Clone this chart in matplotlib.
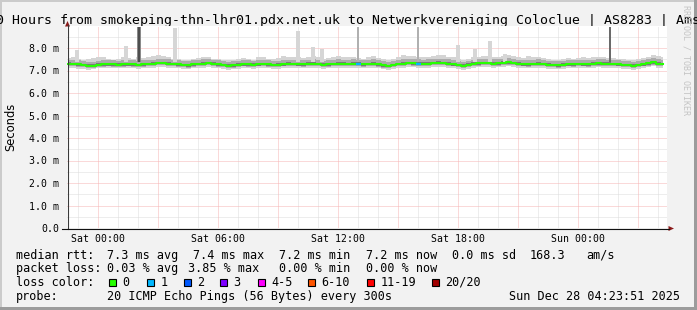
import matplotlib
matplotlib.use('Agg')
import matplotlib.pyplot as plt
import numpy as np
from matplotlib.patches import Rectangle, Polygon

plt.rcParams['lines.scale_dashes'] = False

# ---------------- data ----------------
title = "30 Hours from smokeping-thn-lhr01.pdx.net.uk to Netwerkvereniging Coloclue | AS8283 | Amsterdam"
start_hour = -1.5      # hours relative to Sat 00:00
step_hours = 0.25

median = [
    7.30, 7.29, 7.27, 7.24, 7.21, 7.22, 7.26, 7.27, 7.28, 7.27,
    7.26, 7.27, 7.28, 7.27, 7.25, 7.27, 7.29, 7.30, 7.33, 7.34,
    7.31, 7.29, 7.27, 7.24, 7.23, 7.27, 7.29, 7.31, 7.33, 7.30,
    7.27, 7.24, 7.22, 7.23, 7.26, 7.28, 7.27, 7.26, 7.28, 7.29,
    7.27, 7.25, 7.26, 7.28, 7.30, 7.29, 7.28, 7.27, 7.30, 7.31,
    7.29, 7.26, 7.27, 7.29, 7.31, 7.30, 7.29, 7.31, 7.30, 7.27,
    7.29, 7.31, 7.27, 7.23, 7.20, 7.25, 7.29, 7.31, 7.33, 7.32,
    7.31, 7.30, 7.31, 7.33, 7.35, 7.34, 7.31, 7.28, 7.25, 7.22,
    7.26, 7.30, 7.32, 7.34, 7.33, 7.31, 7.32, 7.35, 7.36, 7.33,
    7.30, 7.28, 7.27, 7.29, 7.31, 7.29, 7.26, 7.24, 7.23, 7.26,
    7.28, 7.27, 7.29, 7.28, 7.27, 7.30, 7.32, 7.31, 7.30, 7.29,
    7.28, 7.25, 7.24, 7.22, 7.25, 7.28, 7.32, 7.36, 7.31, 7.29]

smoke_hi = [
    7.55, 7.60, 7.52, 7.48, 7.50, 7.56, 7.62, 7.58, 7.50, 7.47,
    7.52, 7.58, 7.55, 7.50, 7.62, 7.56, 7.60, 7.65, 7.70, 7.66,
    7.58, 7.52, 7.50, 7.48, 7.46, 7.52, 7.55, 7.60, 7.58, 7.52,
    7.50, 7.46, 7.45, 7.48, 7.52, 7.56, 7.50, 7.48, 7.58, 7.62,
    7.52, 7.50, 7.55, 7.65, 7.60, 7.62, 7.58, 7.55, 7.62, 7.66,
    7.58, 7.52, 7.55, 7.60, 7.65, 7.62, 7.58, 7.62, 7.56, 7.52,
    7.58, 7.64, 7.55, 7.50, 7.47, 7.52, 7.62, 7.70, 7.66, 7.64,
    7.60, 7.58, 7.62, 7.66, 7.70, 7.68, 7.62, 7.58, 7.52, 7.48,
    7.52, 7.58, 7.62, 7.66, 7.64, 7.60, 7.62, 7.66, 7.70, 7.64,
    7.58, 7.55, 7.66, 7.62, 7.58, 7.54, 7.50, 7.48, 7.46, 7.50,
    7.54, 7.52, 7.56, 7.60, 7.55, 7.58, 7.62, 7.60, 7.56, 7.54,
    7.52, 7.50, 7.48, 7.46, 7.50, 7.56, 7.62, 7.70, 7.66, 7.58]

smoke_lo = [
    7.12, 7.10, 7.08, 7.06, 7.04, 7.06, 7.10, 7.11, 7.12, 7.10,
    7.09, 7.11, 7.12, 7.10, 7.08, 7.10, 7.12, 7.13, 7.15, 7.16,
    7.13, 7.11, 7.09, 7.06, 7.05, 7.09, 7.11, 7.13, 7.15, 7.12,
    7.09, 7.06, 7.04, 7.05, 7.08, 7.10, 7.09, 7.08, 7.10, 7.11,
    7.09, 7.07, 7.08, 7.10, 7.12, 7.11, 7.10, 7.09, 7.12, 7.13,
    7.11, 7.08, 7.09, 7.11, 7.13, 7.12, 7.11, 7.13, 7.12, 7.09,
    7.11, 7.13, 7.09, 7.05, 7.02, 7.07, 7.11, 7.13, 7.15, 7.14,
    7.13, 7.12, 7.13, 7.15, 7.17, 7.16, 7.13, 7.10, 7.07, 7.04,
    7.08, 7.12, 7.14, 7.16, 7.15, 7.13, 7.14, 7.17, 7.18, 7.15,
    7.12, 7.10, 7.09, 7.11, 7.13, 7.11, 7.08, 7.06, 7.05, 7.08,
    7.10, 7.09, 7.11, 7.10, 7.09, 7.12, 7.14, 7.13, 7.12, 7.11,
    7.10, 7.07, 7.06, 7.04, 7.07, 7.10, 7.14, 7.18, 7.13, 7.11]

# outlier spikes (hour, top value in ms, shade)
spike_hours = [-1.05, 1.4, 2.05, 2.05, 3.85, 10.0, 10.75, 11.2, 13.0, 16.0, 18.0, 18.85, 19.6, 20.35, 25.6]
spike_tops  = [7.90, 8.10, 8.93, 8.93, 8.90, 8.75, 8.05, 7.95, 8.95, 8.95, 8.15, 7.95, 8.30, 7.75, 8.95]
spike_shade = ['light', 'light', 'mid', 'dark', 'light', 'light', 'light', 'light',
               'thin', 'thin', 'light', 'light', 'light', 'light', 'dark2']

# points with packet loss (hour, lost pings)
loss_hours = [12.95, 15.95]
loss_counts = [1, 1]

x_tick_hours = [0, 6, 12, 18, 24]
x_tick_labels = ["Sat 00:00", "Sat 06:00", "Sat 12:00", "Sat 18:00", "Sun 00:00"]
y_ticks = [0, 1, 2, 3, 4, 5, 6, 7, 8]
y_tick_labels = ["0.0", "1.0 m", "2.0 m", "3.0 m", "4.0 m", "5.0 m", "6.0 m", "7.0 m", "8.0 m"]

loss_legend_labels = ["0", "1", "2", "3", "4-5", "6-10", "11-19", "20/20"]
loss_legend_colors = ["#26ff00", "#00b8ff", "#0059ff", "#7e00ff", "#ff00ff", "#ff5500", "#ff0000", "#a10000"]

stats_rtt = ["7.3 ms avg", "7.4 ms max", "7.2 ms min", "7.2 ms now", "0.0 ms sd", "168.3", "am/s"]
stats_loss = ["0.03 % avg", "3.85 % max", "0.00 % min", "0.00 % now"]
probe_text = "20 ICMP Echo Pings (56 Bytes) every 300s"
date_text = "Sun Dec 28 04:23:51 2025"

# ---------------- figure ----------------
W, H = 697, 310
BG = '#f2f2f2'
fig = plt.figure(figsize=(W / 100, H / 100), dpi=100, facecolor=BG)

ov = fig.add_axes([0, 0, 1, 1], zorder=0)
ov.set_xlim(0, W); ov.set_ylim(H, 0); ov.axis('off')

ax = fig.add_axes([67 / W, 82 / H, 600 / W, 202.5 / H], zorder=1)
ax.set_facecolor('white')
x0 = (67 - 98) / 20.0
ax.set_xlim(x0, x0 + 30)
ax.set_ylim(0, 9.0)
for s in ax.spines.values():
    s.set_visible(False)

mono = 'DejaVu Sans Mono'

# grid
minor_h = np.arange(-1, 29, 1)
major_h = np.arange(0, 29, 3)
gray_grid = '#dcdcdc'
red_grid = '#f7b4b4'
dots = (0, (0.72, 0.72))
for h in minor_h:
    if h % 3 != 0:
        ax.axvline(h, color=gray_grid, lw=0.72, ls=dots, zorder=0.5)
for v in np.arange(0.5, 9.0, 1.0):
    ax.axhline(v, color=gray_grid, lw=0.72, ls=dots, zorder=0.5)
for h in major_h:
    ax.axvline(h, color=red_grid, lw=0.72, ls=dots, zorder=0.6)
for v in y_ticks[1:]:
    ax.axhline(v, color=red_grid, lw=0.72, ls=dots, zorder=0.6)

t = start_hour + step_hours * np.arange(len(median))
med = np.array(median)
lo = np.array(smoke_lo)
hi = np.array(smoke_hi)

# smoke
ax.fill_between(t, lo, hi, step='mid', color='#d4d4d4', lw=0, zorder=1)
ax.fill_between(t, np.maximum(lo, med - 0.1), np.minimum(hi, med + 0.18), step='mid',
                color='#ababab', lw=0, zorder=1.1)
ax.fill_between(t, med - 0.06, med + 0.06, step='mid', color='#7a7a7a', lw=0, zorder=1.2)

shade_style = {
    'light': ('#d6d6d6', 0.17),
    'mid': ('#8a8a8a', 0.22),
    'dark': ('#4e4e4e', 0.09),
    'thin': ('#b0b0b0', 0.06),
    'dark2': ('#6a6a6a', 0.13),
}
for h, top, sh in zip(spike_hours, spike_tops, spike_shade):
    c, w = shade_style[sh]
    ax.bar(h, top - 7.4, bottom=7.4, width=w, color=c, lw=0, zorder=1.3)

# median line
ax.step(t, med, where='mid', color='#26ff00', lw=1.5, zorder=2)
for h, n in zip(loss_hours, loss_counts):
    i = int(round((h - start_hour) / step_hours))
    ax.plot([t[i] - step_hours / 2, t[i] + step_hours / 2], [med[i], med[i]],
            color=loss_legend_colors[n], lw=1.6, zorder=2.1, solid_capstyle='butt')

# ticks
ax.set_xticks(x_tick_hours)
ax.set_xticklabels(x_tick_labels, fontsize=7.1, family=mono)
ax.set_yticks(y_ticks)
ax.set_yticklabels(y_tick_labels, fontsize=7.1, family=mono)
ax.tick_params(axis='both', length=0)
ax.tick_params(axis='x', pad=4.0)
ax.tick_params(axis='y', pad=5.6)

# axes lines and arrows (pixel overlay on top)
top = fig.add_axes([0, 0, 1, 1], zorder=3)
top.set_xlim(0, W); top.set_ylim(H, 0); top.axis('off'); top.patch.set_alpha(0)
top.plot([67.5, 67.5], [229, 25], color='#3a3a3a', lw=0.8)
top.plot([62, 669], [228.5, 228.5], color='#111111', lw=0.8)
top.add_patch(Polygon([[65, 26.5], [70, 26.5], [67.5, 21]], closed=True, color='#8b1a1a', lw=0))
top.add_patch(Polygon([[668.5, 226], [668.5, 231], [674, 228.5]], closed=True, color='#8b1a1a', lw=0))

# frame shading
ov.add_patch(Rectangle((0, 0), W, 2, color='#cbcbcb', lw=0))
ov.add_patch(Rectangle((0, 0), 2, H, color='#cbcbcb', lw=0))
ov.add_patch(Rectangle((0, H - 3), W, 3, color='#9c9c9c', lw=0))
ov.add_patch(Rectangle((W - 3, 0), 3, H, color='#9c9c9c', lw=0))

# title
ov.text(-12, 24.3, title, fontsize=9.55, family=mono, ha='left', va='baseline', color='black')
ov.text(686, 5, 'RRDTOOL / TOBI OETIKER', rotation=270, ha='center', va='top',
        fontsize=6.0, family=mono, color='#c4c4c4')
ov.text(10.5, 127, 'Seconds', rotation=90, ha='center', va='center', fontsize=8.3,
        family='DejaVu Sans', color='black')

# legend
fs = 8.5
rows_y = [258.6, 272.2, 285.9, 299.6]
ov.text(16, rows_y[0], 'median rtt:', fontsize=fs, family=mono, va='baseline')
for x, s in zip([107, 193, 279, 366, 452, 530, 586], stats_rtt):
    ov.text(x, rows_y[0], s, fontsize=fs, family=mono, va='baseline')
ov.text(16, rows_y[1], 'packet loss:', fontsize=fs, family=mono, va='baseline')
for x, s in zip([107, 188, 279, 366], stats_loss):
    ov.text(x, rows_y[1], s, fontsize=fs, family=mono, va='baseline')
ov.text(16, rows_y[2], 'loss color:', fontsize=fs, family=mono, va='baseline')
for x, lab, c in zip([108, 146, 183, 219, 257, 307, 366, 431], loss_legend_labels, loss_legend_colors):
    ov.add_patch(Rectangle((x + 0.5, 278.5), 7.5, 7.5, facecolor=c, edgecolor='black', lw=0.8))
    ov.text(x + 14.5, rows_y[2], lab, fontsize=fs, family=mono, va='baseline')
ov.text(16, rows_y[3], 'probe:', fontsize=fs, family=mono, va='baseline')
ov.text(107, rows_y[3], probe_text, fontsize=fs, family=mono, va='baseline')
ov.text(680, rows_y[3], date_text, fontsize=fs, family=mono, va='baseline', ha='right')

fig.savefig('out.png', dpi=100, facecolor=BG)
